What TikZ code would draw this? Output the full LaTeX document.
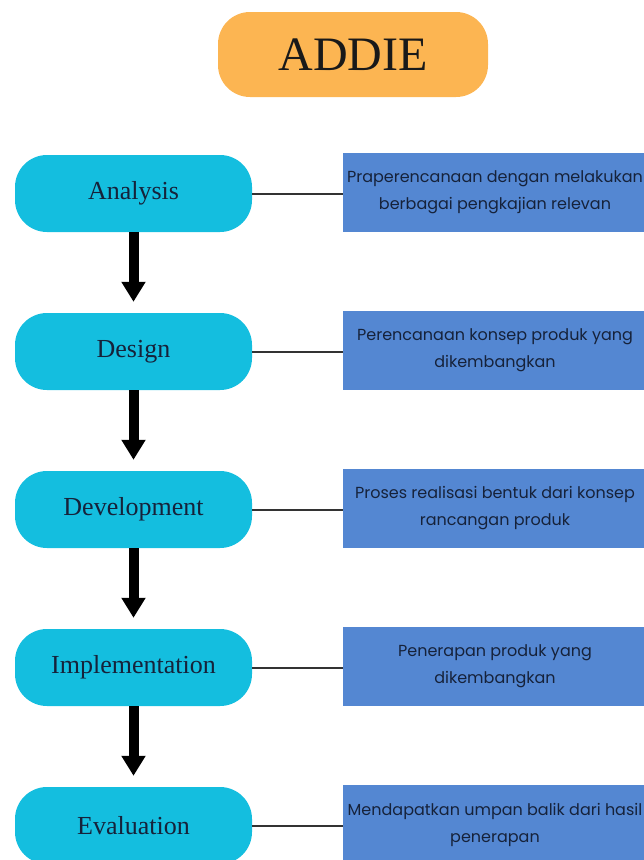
\documentclass[tikz,border=0pt]{standalone}
\usepackage{fontspec}
\setmainfont{Liberation Serif}
\newfontfamily\boxfont{Poppins}
\usetikzlibrary{arrows.meta}

\definecolor{addieorange}{HTML}{FCB552}
\definecolor{pillcyan}{HTML}{14BEDF}
\definecolor{boxblue}{HTML}{5487D2}
\definecolor{inktext}{HTML}{16223A}

\begin{document}
\begin{tikzpicture}[x=1pt,y=-1pt,
    title/.style={fill=addieorange,rounded corners=32pt,minimum width=270pt,minimum height=85pt,
        font=\fontsize{48}{50}\selectfont,text=black!90},
    phase/.style={fill=pillcyan,rounded corners=32pt,minimum width=237pt,minimum height=77pt,
        font=\fontsize{26}{28}\selectfont,text=inktext},
    note/.style={fill=boxblue,minimum width=304pt,minimum height=79pt,align=center,
        font=\boxfont\fontsize{16}{27}\selectfont,text=inktext},
    link/.style={draw=black!80,line width=2pt},
    flow/.style={line width=10pt,-{Triangle[width=23pt,length=20pt]},shorten >=11pt}]
        \useasboundingbox (0,0) rectangle (644,860);
        \clip (0,0) rectangle (644,860);

        \node[title] (addie) at (353,54.5) {ADDIE};

        % Tahapan
        \node[phase] (ana) at (133.5,193.5) {Analysis};
        \node[phase] (des) at (133.5,351.5) {Design};
        \node[phase] (dev) at (133.5,509.5) {Development};
        \node[phase] (imp) at (133.5,667.5) {Implementation};
        \node[phase] (eva) at (133.5,825.5) {Evaluation};

        % Keterangan
        \node[note] (anaT) at (495,192.5) {Praperencanaan dengan melakukan\\berbagai pengkajian relevan};
        \node[note] (desT) at (495,350.5) {Perencanaan konsep produk yang\\dikembangkan};
        \node[note] (devT) at (495,508.5) {Proses realisasi bentuk dari konsep\\rancangan produk};
        \node[note] (impT) at (495,666.5) {Penerapan produk yang\\dikembangkan};
        \node[note] (evaT) at (495,824.5) {Mendapatkan umpan balik dari hasil\\penerapan};

        \draw[link] (ana.east) -- (ana.east -| anaT.west);
        \draw[link] (des.east) -- (des.east -| desT.west);
        \draw[link] (dev.east) -- (dev.east -| devT.west);
        \draw[link] (imp.east) -- (imp.east -| impT.west);
        \draw[link] (eva.east) -- (eva.east -| evaT.west);

        % Alur
        \draw[flow] (ana) -- (des);
        \draw[flow] (des) -- (dev);
        \draw[flow] (dev) -- (imp);
        \draw[flow] (imp) -- (eva);
    \end{tikzpicture}
\end{document}
